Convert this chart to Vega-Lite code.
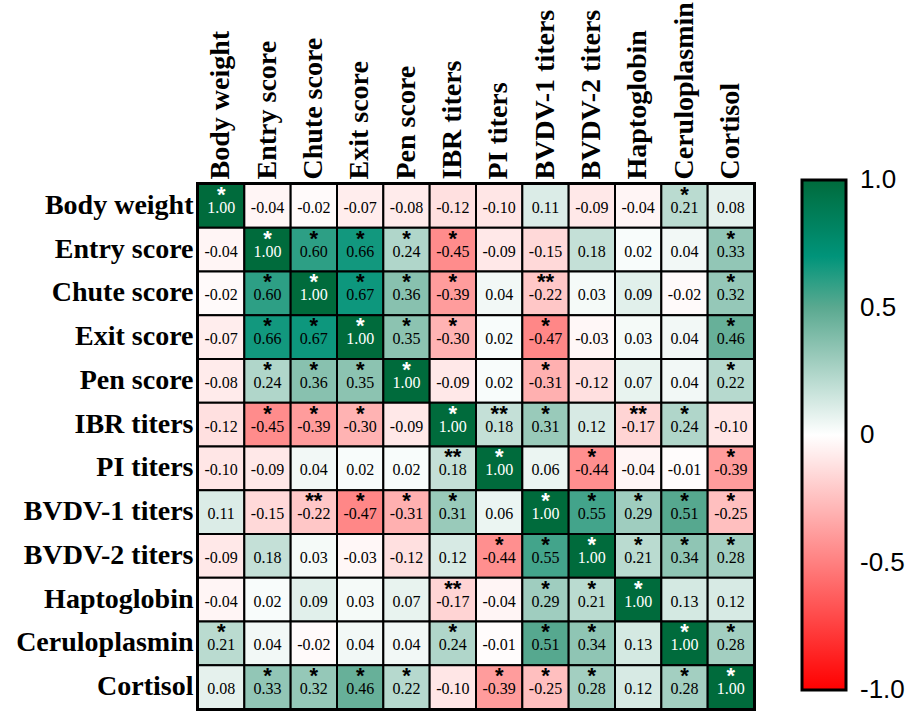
{
  "$schema": "https://vega.github.io/schema/vega-lite/v6.json",
  "autosize": {"type": "none"},
  "padding": {"left": 198, "top": 184, "right": 163, "bottom": 9},
  "width": 556,
  "height": 525,
  "background": "white",
  "config": {
    "locale": {"number": {"decimal": ".", "thousands": ",", "grouping": [3], "currency": ["$", ""], "minus": "-"}},
    "view": {"stroke": "black", "strokeWidth": 4},
    "axis": {"ticks": false, "domain": false, "grid": false, "title": null, "labelFont": "Liberation Serif", "labelFontWeight": "bold", "labelFontSize": 28, "labelColor": "black", "labelLimit": 400, "labelPadding": 5}
  },
  "data": {"values": [
    {"row":"Body weight","col":"Body weight","r":1.00,"sig":"*"},
    {"row":"Body weight","col":"Entry score","r":-0.04,"sig":""},
    {"row":"Body weight","col":"Chute score","r":-0.02,"sig":""},
    {"row":"Body weight","col":"Exit score","r":-0.07,"sig":""},
    {"row":"Body weight","col":"Pen score","r":-0.08,"sig":""},
    {"row":"Body weight","col":"IBR titers","r":-0.12,"sig":""},
    {"row":"Body weight","col":"PI titers","r":-0.10,"sig":""},
    {"row":"Body weight","col":"BVDV-1 titers","r":0.11,"sig":""},
    {"row":"Body weight","col":"BVDV-2 titers","r":-0.09,"sig":""},
    {"row":"Body weight","col":"Haptoglobin","r":-0.04,"sig":""},
    {"row":"Body weight","col":"Ceruloplasmin","r":0.21,"sig":"*"},
    {"row":"Body weight","col":"Cortisol","r":0.08,"sig":""},

    {"row":"Entry score","col":"Body weight","r":-0.04,"sig":""},
    {"row":"Entry score","col":"Entry score","r":1.00,"sig":"*"},
    {"row":"Entry score","col":"Chute score","r":0.60,"sig":"*"},
    {"row":"Entry score","col":"Exit score","r":0.66,"sig":"*"},
    {"row":"Entry score","col":"Pen score","r":0.24,"sig":"*"},
    {"row":"Entry score","col":"IBR titers","r":-0.45,"sig":"*"},
    {"row":"Entry score","col":"PI titers","r":-0.09,"sig":""},
    {"row":"Entry score","col":"BVDV-1 titers","r":-0.15,"sig":""},
    {"row":"Entry score","col":"BVDV-2 titers","r":0.18,"sig":""},
    {"row":"Entry score","col":"Haptoglobin","r":0.02,"sig":""},
    {"row":"Entry score","col":"Ceruloplasmin","r":0.04,"sig":""},
    {"row":"Entry score","col":"Cortisol","r":0.33,"sig":"*"},

    {"row":"Chute score","col":"Body weight","r":-0.02,"sig":""},
    {"row":"Chute score","col":"Entry score","r":0.60,"sig":"*"},
    {"row":"Chute score","col":"Chute score","r":1.00,"sig":"*"},
    {"row":"Chute score","col":"Exit score","r":0.67,"sig":"*"},
    {"row":"Chute score","col":"Pen score","r":0.36,"sig":"*"},
    {"row":"Chute score","col":"IBR titers","r":-0.39,"sig":"*"},
    {"row":"Chute score","col":"PI titers","r":0.04,"sig":""},
    {"row":"Chute score","col":"BVDV-1 titers","r":-0.22,"sig":"**"},
    {"row":"Chute score","col":"BVDV-2 titers","r":0.03,"sig":""},
    {"row":"Chute score","col":"Haptoglobin","r":0.09,"sig":""},
    {"row":"Chute score","col":"Ceruloplasmin","r":-0.02,"sig":""},
    {"row":"Chute score","col":"Cortisol","r":0.32,"sig":"*"},

    {"row":"Exit score","col":"Body weight","r":-0.07,"sig":""},
    {"row":"Exit score","col":"Entry score","r":0.66,"sig":"*"},
    {"row":"Exit score","col":"Chute score","r":0.67,"sig":"*"},
    {"row":"Exit score","col":"Exit score","r":1.00,"sig":"*"},
    {"row":"Exit score","col":"Pen score","r":0.35,"sig":"*"},
    {"row":"Exit score","col":"IBR titers","r":-0.30,"sig":"*"},
    {"row":"Exit score","col":"PI titers","r":0.02,"sig":""},
    {"row":"Exit score","col":"BVDV-1 titers","r":-0.47,"sig":"*"},
    {"row":"Exit score","col":"BVDV-2 titers","r":-0.03,"sig":""},
    {"row":"Exit score","col":"Haptoglobin","r":0.03,"sig":""},
    {"row":"Exit score","col":"Ceruloplasmin","r":0.04,"sig":""},
    {"row":"Exit score","col":"Cortisol","r":0.46,"sig":"*"},

    {"row":"Pen score","col":"Body weight","r":-0.08,"sig":""},
    {"row":"Pen score","col":"Entry score","r":0.24,"sig":"*"},
    {"row":"Pen score","col":"Chute score","r":0.36,"sig":"*"},
    {"row":"Pen score","col":"Exit score","r":0.35,"sig":"*"},
    {"row":"Pen score","col":"Pen score","r":1.00,"sig":"*"},
    {"row":"Pen score","col":"IBR titers","r":-0.09,"sig":""},
    {"row":"Pen score","col":"PI titers","r":0.02,"sig":""},
    {"row":"Pen score","col":"BVDV-1 titers","r":-0.31,"sig":"*"},
    {"row":"Pen score","col":"BVDV-2 titers","r":-0.12,"sig":""},
    {"row":"Pen score","col":"Haptoglobin","r":0.07,"sig":""},
    {"row":"Pen score","col":"Ceruloplasmin","r":0.04,"sig":""},
    {"row":"Pen score","col":"Cortisol","r":0.22,"sig":"*"},

    {"row":"IBR titers","col":"Body weight","r":-0.12,"sig":""},
    {"row":"IBR titers","col":"Entry score","r":-0.45,"sig":"*"},
    {"row":"IBR titers","col":"Chute score","r":-0.39,"sig":"*"},
    {"row":"IBR titers","col":"Exit score","r":-0.30,"sig":"*"},
    {"row":"IBR titers","col":"Pen score","r":-0.09,"sig":""},
    {"row":"IBR titers","col":"IBR titers","r":1.00,"sig":"*"},
    {"row":"IBR titers","col":"PI titers","r":0.18,"sig":"**"},
    {"row":"IBR titers","col":"BVDV-1 titers","r":0.31,"sig":"*"},
    {"row":"IBR titers","col":"BVDV-2 titers","r":0.12,"sig":""},
    {"row":"IBR titers","col":"Haptoglobin","r":-0.17,"sig":"**"},
    {"row":"IBR titers","col":"Ceruloplasmin","r":0.24,"sig":"*"},
    {"row":"IBR titers","col":"Cortisol","r":-0.10,"sig":""},

    {"row":"PI titers","col":"Body weight","r":-0.10,"sig":""},
    {"row":"PI titers","col":"Entry score","r":-0.09,"sig":""},
    {"row":"PI titers","col":"Chute score","r":0.04,"sig":""},
    {"row":"PI titers","col":"Exit score","r":0.02,"sig":""},
    {"row":"PI titers","col":"Pen score","r":0.02,"sig":""},
    {"row":"PI titers","col":"IBR titers","r":0.18,"sig":"**"},
    {"row":"PI titers","col":"PI titers","r":1.00,"sig":"*"},
    {"row":"PI titers","col":"BVDV-1 titers","r":0.06,"sig":""},
    {"row":"PI titers","col":"BVDV-2 titers","r":-0.44,"sig":"*"},
    {"row":"PI titers","col":"Haptoglobin","r":-0.04,"sig":""},
    {"row":"PI titers","col":"Ceruloplasmin","r":-0.01,"sig":""},
    {"row":"PI titers","col":"Cortisol","r":-0.39,"sig":"*"},

    {"row":"BVDV-1 titers","col":"Body weight","r":0.11,"sig":""},
    {"row":"BVDV-1 titers","col":"Entry score","r":-0.15,"sig":""},
    {"row":"BVDV-1 titers","col":"Chute score","r":-0.22,"sig":"**"},
    {"row":"BVDV-1 titers","col":"Exit score","r":-0.47,"sig":"*"},
    {"row":"BVDV-1 titers","col":"Pen score","r":-0.31,"sig":"*"},
    {"row":"BVDV-1 titers","col":"IBR titers","r":0.31,"sig":"*"},
    {"row":"BVDV-1 titers","col":"PI titers","r":0.06,"sig":""},
    {"row":"BVDV-1 titers","col":"BVDV-1 titers","r":1.00,"sig":"*"},
    {"row":"BVDV-1 titers","col":"BVDV-2 titers","r":0.55,"sig":"*"},
    {"row":"BVDV-1 titers","col":"Haptoglobin","r":0.29,"sig":"*"},
    {"row":"BVDV-1 titers","col":"Ceruloplasmin","r":0.51,"sig":"*"},
    {"row":"BVDV-1 titers","col":"Cortisol","r":-0.25,"sig":"*"},

    {"row":"BVDV-2 titers","col":"Body weight","r":-0.09,"sig":""},
    {"row":"BVDV-2 titers","col":"Entry score","r":0.18,"sig":""},
    {"row":"BVDV-2 titers","col":"Chute score","r":0.03,"sig":""},
    {"row":"BVDV-2 titers","col":"Exit score","r":-0.03,"sig":""},
    {"row":"BVDV-2 titers","col":"Pen score","r":-0.12,"sig":""},
    {"row":"BVDV-2 titers","col":"IBR titers","r":0.12,"sig":""},
    {"row":"BVDV-2 titers","col":"PI titers","r":-0.44,"sig":"*"},
    {"row":"BVDV-2 titers","col":"BVDV-1 titers","r":0.55,"sig":"*"},
    {"row":"BVDV-2 titers","col":"BVDV-2 titers","r":1.00,"sig":"*"},
    {"row":"BVDV-2 titers","col":"Haptoglobin","r":0.21,"sig":"*"},
    {"row":"BVDV-2 titers","col":"Ceruloplasmin","r":0.34,"sig":"*"},
    {"row":"BVDV-2 titers","col":"Cortisol","r":0.28,"sig":"*"},

    {"row":"Haptoglobin","col":"Body weight","r":-0.04,"sig":""},
    {"row":"Haptoglobin","col":"Entry score","r":0.02,"sig":""},
    {"row":"Haptoglobin","col":"Chute score","r":0.09,"sig":""},
    {"row":"Haptoglobin","col":"Exit score","r":0.03,"sig":""},
    {"row":"Haptoglobin","col":"Pen score","r":0.07,"sig":""},
    {"row":"Haptoglobin","col":"IBR titers","r":-0.17,"sig":"**"},
    {"row":"Haptoglobin","col":"PI titers","r":-0.04,"sig":""},
    {"row":"Haptoglobin","col":"BVDV-1 titers","r":0.29,"sig":"*"},
    {"row":"Haptoglobin","col":"BVDV-2 titers","r":0.21,"sig":"*"},
    {"row":"Haptoglobin","col":"Haptoglobin","r":1.00,"sig":"*"},
    {"row":"Haptoglobin","col":"Ceruloplasmin","r":0.13,"sig":""},
    {"row":"Haptoglobin","col":"Cortisol","r":0.12,"sig":""},

    {"row":"Ceruloplasmin","col":"Body weight","r":0.21,"sig":"*"},
    {"row":"Ceruloplasmin","col":"Entry score","r":0.04,"sig":""},
    {"row":"Ceruloplasmin","col":"Chute score","r":-0.02,"sig":""},
    {"row":"Ceruloplasmin","col":"Exit score","r":0.04,"sig":""},
    {"row":"Ceruloplasmin","col":"Pen score","r":0.04,"sig":""},
    {"row":"Ceruloplasmin","col":"IBR titers","r":0.24,"sig":"*"},
    {"row":"Ceruloplasmin","col":"PI titers","r":-0.01,"sig":""},
    {"row":"Ceruloplasmin","col":"BVDV-1 titers","r":0.51,"sig":"*"},
    {"row":"Ceruloplasmin","col":"BVDV-2 titers","r":0.34,"sig":"*"},
    {"row":"Ceruloplasmin","col":"Haptoglobin","r":0.13,"sig":""},
    {"row":"Ceruloplasmin","col":"Ceruloplasmin","r":1.00,"sig":"*"},
    {"row":"Ceruloplasmin","col":"Cortisol","r":0.28,"sig":"*"},

    {"row":"Cortisol","col":"Body weight","r":0.08,"sig":""},
    {"row":"Cortisol","col":"Entry score","r":0.33,"sig":"*"},
    {"row":"Cortisol","col":"Chute score","r":0.32,"sig":"*"},
    {"row":"Cortisol","col":"Exit score","r":0.46,"sig":"*"},
    {"row":"Cortisol","col":"Pen score","r":0.22,"sig":"*"},
    {"row":"Cortisol","col":"IBR titers","r":-0.10,"sig":""},
    {"row":"Cortisol","col":"PI titers","r":-0.39,"sig":"*"},
    {"row":"Cortisol","col":"BVDV-1 titers","r":-0.25,"sig":"*"},
    {"row":"Cortisol","col":"BVDV-2 titers","r":0.28,"sig":"*"},
    {"row":"Cortisol","col":"Haptoglobin","r":0.12,"sig":""},
    {"row":"Cortisol","col":"Ceruloplasmin","r":0.28,"sig":"*"},
    {"row":"Cortisol","col":"Cortisol","r":1.00,"sig":"*"}
  ]},
  "encoding": {
    "x": {"field": "col", "type": "nominal", "sort": null, "axis": {"orient": "top", "labelAngle": -90}},
    "y": {"field": "row", "type": "nominal", "sort": null}
  },
  "layer": [
    {
      "mark": {"type": "rect", "stroke": "black", "strokeWidth": 2},
      "encoding": {
        "color": {
          "field": "r", "type": "quantitative",
          "scale": {"domain": [-1, 0, 0.5, 0.7, 1], "range": ["#ff0000", "#ffffff", "#5aa990", "#00947a", "#006b3c"], "interpolate": "rgb"},
          "legend": {
            "orient": "none", "legendX": 604, "legendY": -4, "padding": 0,
            "direction": "vertical", "title": null,
            "gradientLength": 510, "gradientThickness": 44,
            "gradientStrokeColor": "black", "gradientStrokeWidth": 3,
            "values": [-1, -0.5, 0, 0.5, 1],
            "labelFont": "Liberation Sans", "labelFontSize": 26, "labelColor": "black", "labelOffset": 14,
            "labelOverlap": false,
            "labelExpr": "datum.value == 0 ? '0' : format(datum.value, '.1f')",
            "encode": {"labels": {"update": {"baseline": {"value": "middle"}}}}
          }
        }
      }
    },
    {
      "mark": {"type": "text", "font": "Liberation Serif", "fontSize": 16, "baseline": "middle", "dy": 2},
      "encoding": {
        "text": {"field": "r", "type": "quantitative", "format": ".2f"},
        "color": {"condition": {"test": "datum.r == 1", "value": "white"}, "value": "black"}
      }
    },
    {
      "transform": [{"filter": "datum.sig != ''"}],
      "mark": {"type": "text", "font": "Liberation Sans", "fontWeight": "bold", "fontSize": 22, "baseline": "middle", "dy": -11},
      "encoding": {
        "text": {"field": "sig", "type": "nominal"},
        "color": {"condition": {"test": "datum.r == 1", "value": "white"}, "value": "black"}
      }
    }
  ]
}
